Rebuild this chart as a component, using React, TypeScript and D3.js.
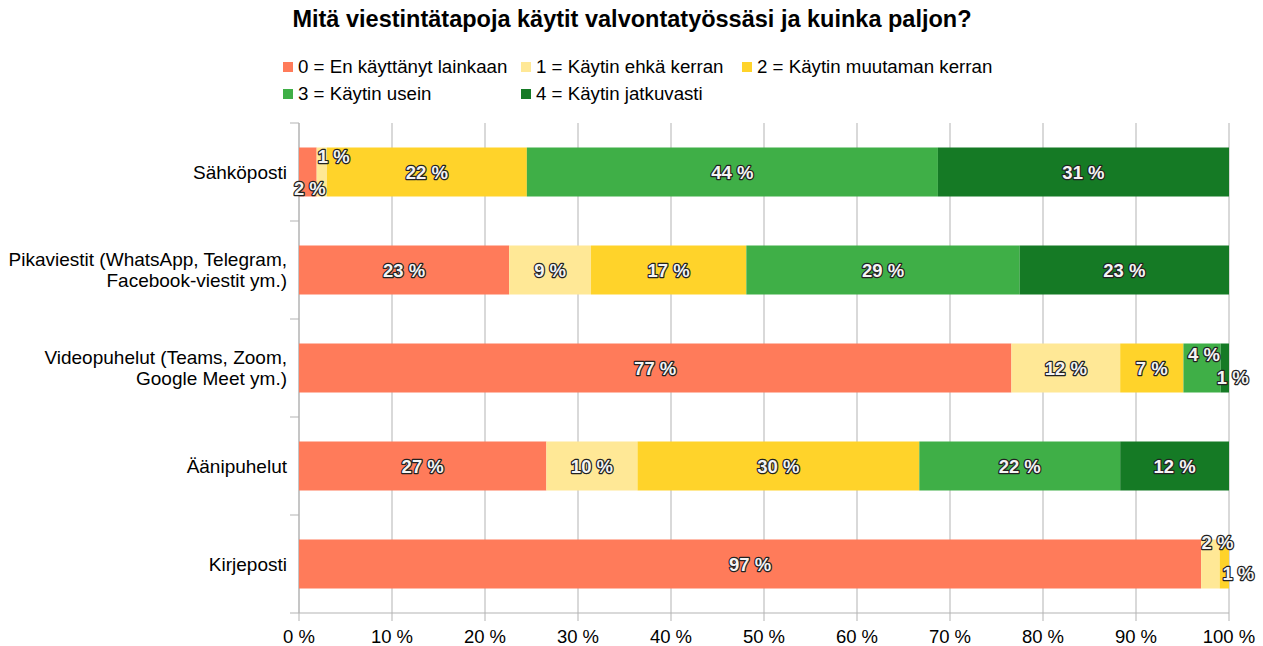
import React from "react";
import * as d3 from "d3";

const categories = [
  "Sähköposti",
  "Pikaviestit (WhatsApp, Telegram,|Facebook-viestit ym.)",
  "Videopuhelut (Teams, Zoom,|Google Meet ym.)",
  "Äänipuhelut",
  "Kirjeposti",
];
const seriesNames = [
  "0 = En käyttänyt lainkaan",
  "1 = Käytin ehkä kerran",
  "2 = Käytin muutaman kerran",
  "3 = Käytin usein",
  "4 = Käytin jatkuvasti",
];
const s0 = [1.9, 22.6, 76.6, 26.6, 97.0];
const s1 = [1.1, 8.8, 11.7, 9.8, 2.0];
const s2 = [21.5, 16.7, 6.8, 30.3, 1.0];
const s3 = [44.2, 29.4, 4.0, 21.6, 0];
const s4 = [31.3, 22.5, 0.9, 11.7, 0];
const seriesValues = [s0, s1, s2, s3, s4];
const ticks = [0, 10, 20, 30, 40, 50, 60, 70, 80, 90, 100];
const colors = ["#ff7b5a", "#ffe896", "#ffd32a", "#3faf47", "#157a25"];

// label nudges for crowded small segments: key "row-series" -> [dx, dy]
const nudges: Record<string, [number, number]> = {
  "0-0": [2, 16],
  "0-1": [12, -16],
  "2-3": [2, -14],
  "2-4": [8, 9],
  "4-1": [7, -22],
  "4-2": [14, 9],
};

export default function App() {
  const W = 1263, H = 646;
  const left = 299, right = 1229, top = 123, bottom = 613;
  const x = d3.scaleLinear().domain([0, 100]).range([left, right]);
  const y = d3.scaleBand().domain(categories).range([top, bottom]).paddingInner(0.5).paddingOuter(0.25);
  const band = d3.scaleBand().domain(categories).range([top, bottom]);
  const font = "'Liberation Sans', Arial, sans-serif";

  const legendPos = [
    [283, 67], [521, 67], [742, 67], [283, 94], [521, 94],
  ];

  return (
    <svg width={W} height={H} style={{ position: "absolute", left: 0, top: 0, background: "#fff" }} fontFamily={font}>
      <text x={632} y={27} textAnchor="middle" fontSize={23.5} fontWeight="bold" fill="#000">
        Mitä viestintätapoja käytit valvontatyössäsi ja kuinka paljon?
      </text>
      {seriesNames.map((n, i) => (
        <g key={n}>
          <rect x={legendPos[i][0]} y={legendPos[i][1] - 5} width={10} height={10} fill={colors[i]} />
          <text x={legendPos[i][0] + 15} y={legendPos[i][1] + 6} fontSize={18.7} fill="#000">{n}</text>
        </g>
      ))}
      {ticks.map((t) => (
        <line key={t} x1={x(t)} x2={x(t)} y1={top} y2={bottom + 8} stroke="#b3b3b3" strokeWidth={1} />
      ))}
      <line x1={left - 9} x2={right} y1={bottom} y2={bottom} stroke="#b3b3b3" />
      <line x1={left} x2={left} y1={top} y2={bottom} stroke="#b3b3b3" />
      {categories.map((c, i) => (
        <line key={"t" + i} x1={left - 9} x2={left} y1={band(c)!} y2={band(c)!} stroke="#b3b3b3" />
      ))}
      {ticks.map((t) => (
        <text key={"l" + t} x={x(t)} y={643} textAnchor="middle" fontSize={18.5} fill="#000">{t} %</text>
      ))}
      {categories.map((c) => {
        const lines = c.split("|");
        const cy = y(c)! + y.bandwidth() / 2;
        return (
          <text key={"c" + c} x={287} textAnchor="end" fontSize={19} fill="#000">
            {lines.map((l, j) => (
              <tspan key={j} x={287} y={cy + 6.5 + (j - (lines.length - 1) / 2) * 21}>{l}</tspan>
            ))}
          </text>
        );
      })}
      {categories.map((c, ci) => {
        let acc = 0;
        const by = y(c)!;
        const bh = y.bandwidth();
        return (
          <g key={"b" + ci}>
            {seriesValues.map((s, si) => {
              const v = s[ci];
              const x0 = x(acc);
              acc += v;
              if (v <= 0) return null;
              return <rect key={si} x={x0} y={by} width={x(acc) - x0} height={bh} fill={colors[si]} />;
            })}
          </g>
        );
      })}
      {categories.map((c, ci) => {
        let acc = 0;
        const by = y(c)!;
        const bh = y.bandwidth();
        return (
          <g key={"lab" + ci}>
            {seriesValues.map((s, si) => {
              const v = s[ci];
              const mid = x(acc + v / 2);
              acc += v;
              if (v <= 0) return null;
              const nd = nudges[ci + "-" + si] || [0, 0];
              return (
                <text
                  key={si}
                  x={mid + nd[0]}
                  y={by + bh / 2 + 6.5 + nd[1]}
                  textAnchor="middle"
                  fontSize={18.5}
                  fontWeight="bold"
                  fill="#f4f4f4"
                  stroke="#222"
                  strokeWidth={2.4}
                  paintOrder="stroke"
                  strokeLinejoin="round"
                >
                  {Math.round(v)} %
                </text>
              );
            })}
          </g>
        );
      })}
    </svg>
  );
}
